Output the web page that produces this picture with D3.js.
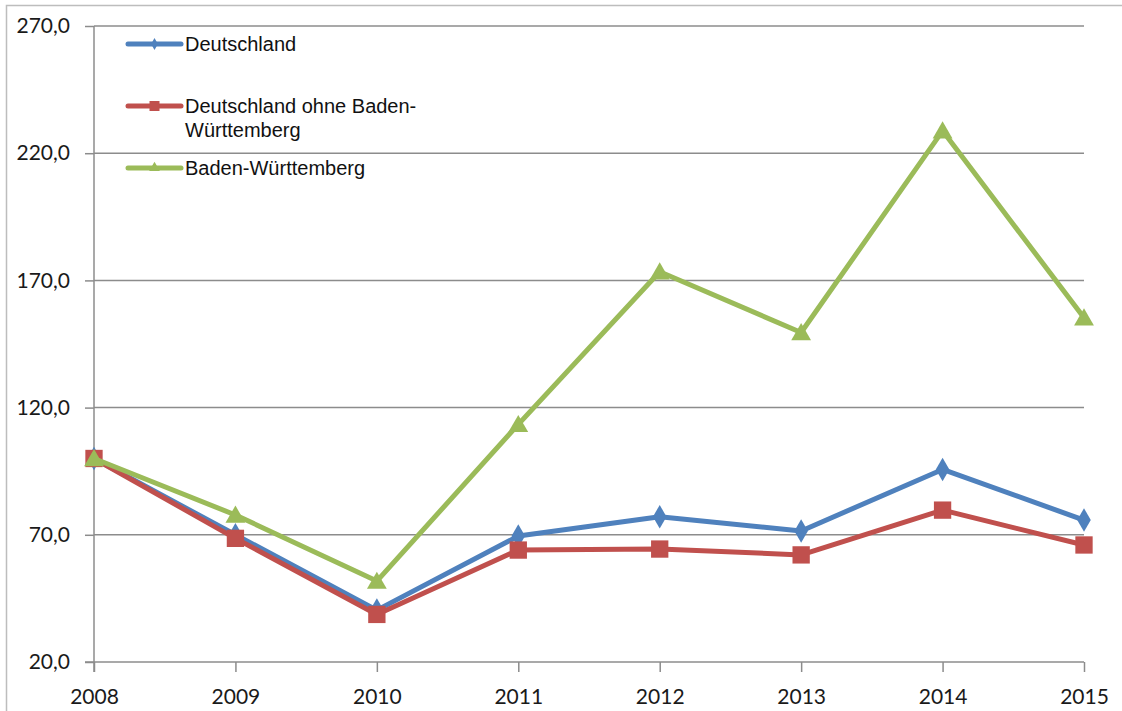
<!DOCTYPE html>
<html lang="de">
<head>
<meta charset="utf-8">
<title>Deutschland / Baden-Württemberg 2008-2015</title>
<script src="https://cdn.jsdelivr.net/npm/d3@7"></script>
<style>
  body { margin: 0; background: #fff; }
  .tick text { font-family: Lato, "Open Sans", sans-serif; fill: #1a1a1a; }
  .legend text { font-family: "Liberation Sans", Arial, sans-serif; fill: #111; }
</style>
</head>
<body>
<script>
var years = ["2008", "2009", "2010", "2011", "2012", "2013", "2014", "2015"];
var deutschland = [100, 70, 40.4, 69.5, 77.1, 71.5, 95.7, 75.8];
var ohneBW = [100, 68.6, 38.7, 64.0, 64.4, 62.1, 79.7, 66.0];
var badenWue = [100, 77.8, 51.8, 113.4, 173.4, 149.5, 228.8, 155.3];
var yTicks = [20, 70, 120, 170, 220, 270];

var w = 1122, h = 711;

var svg = d3.select("body").append("svg")
  .attr("width", w)
  .attr("height", h);

// outer frame
svg.append("rect")
  .attr("x", 6.5).attr("y", 5.5)
  .attr("width", w + 20).attr("height", h + 20)
  .attr("fill", "none")
  .attr("stroke", "#bdbdbd")
  .attr("stroke-width", 1.5);

var x = d3.scalePoint().domain(years).range([94, 1084]);
var y = d3.scaleLinear().domain([20, 270]).range([662, 26]);

// gridlines
svg.append("g")
  .selectAll("line")
  .data(yTicks.slice(1))
  .enter()
  .append("line")
  .attr("x1", 94).attr("x2", 1084)
  .attr("y1", function(d) { return y(d); })
  .attr("y2", function(d) { return y(d); })
  .attr("stroke", "#8c8c8c")
  .attr("stroke-width", 1.5);

var yAxis = svg.append("g")
  .attr("transform", "translate(94,0)")
  .call(d3.axisLeft(y)
    .tickValues(yTicks)
    .tickSize(9)
    .tickPadding(15)
    .tickFormat(function(d) { return d3.format(".1f")(d).replace(".", ","); }));

var xAxis = svg.append("g")
  .attr("transform", "translate(0,662)")
  .call(d3.axisBottom(x).tickSize(10).tickPadding(17));

[yAxis, xAxis].forEach(function(a) {
  a.selectAll("line").attr("stroke", "#8c8c8c").attr("stroke-width", 1.5);
  a.selectAll("text").attr("font-size", "21px").attr("font-family", null);
  a.select(".domain").remove();
});
svg.append("line")
  .attr("x1", 94).attr("x2", 94).attr("y1", 26).attr("y2", 672)
  .attr("stroke", "#8c8c8c").attr("stroke-width", 1.5);
svg.append("line")
  .attr("x1", 85).attr("x2", 1084).attr("y1", 662).attr("y2", 662)
  .attr("stroke", "#8c8c8c").attr("stroke-width", 1.5);

var series = [
  { name: ["Deutschland"], values: deutschland, color: "#4f81bd", marker: "diamond", ly: 44 },
  { name: ["Deutschland ohne Baden-", "Württemberg"], values: ohneBW, color: "#c0504d", marker: "square", ly: 106 },
  { name: ["Baden-Württemberg"], values: badenWue, color: "#9bbb59", marker: "triangle", ly: 168 }
];

var symbols = {
  diamond: d3.symbol().type(d3.symbolDiamond).size(160),
  square: d3.symbol().type(d3.symbolSquare).size(300),
  triangle: d3.symbol().type(d3.symbolTriangle).size(170)
};

var line = d3.line()
  .x(function(d, i) { return x(years[i]); })
  .y(function(d) { return y(d); });

series.forEach(function(s) {
  var g = svg.append("g");
  g.append("path")
    .attr("d", line(s.values))
    .attr("fill", "none")
    .attr("stroke", s.color)
    .attr("stroke-width", 5)
    .attr("stroke-linejoin", "round");
  g.selectAll(".mk")
    .data(s.values)
    .enter()
    .append("path")
    .attr("class", "mk")
    .attr("d", symbols[s.marker])
    .attr("transform", function(d, i) {
      return "translate(" + x(years[i]) + "," + (y(d) + (s.marker === "triangle" ? 2 : 0)) + ")";
    })
    .attr("fill", s.color);
});

// legend
var legend = svg.append("g").attr("class", "legend");
var smallSymbols = {
  diamond: d3.symbol().type(d3.symbolDiamond).size(40),
  square: d3.symbol().type(d3.symbolSquare).size(100),
  triangle: d3.symbol().type(d3.symbolTriangle).size(50)
};
series.forEach(function(s) {
  legend.append("line")
    .attr("x1", 128).attr("x2", 181)
    .attr("y1", s.ly).attr("y2", s.ly)
    .attr("stroke", s.color)
    .attr("stroke-width", 5)
    .attr("stroke-linecap", "round");
  legend.append("path")
    .attr("d", smallSymbols[s.marker])
    .attr("transform", "translate(154.5," + s.ly + ")")
    .attr("fill", s.color);
  s.name.forEach(function(t, k) {
    legend.append("text")
      .attr("x", 185)
      .attr("y", s.ly + k * 24)
      .attr("dy", "0.35em")
      .attr("font-size", "20px")
      .text(t);
  });
});
</script>
</body>
</html>
